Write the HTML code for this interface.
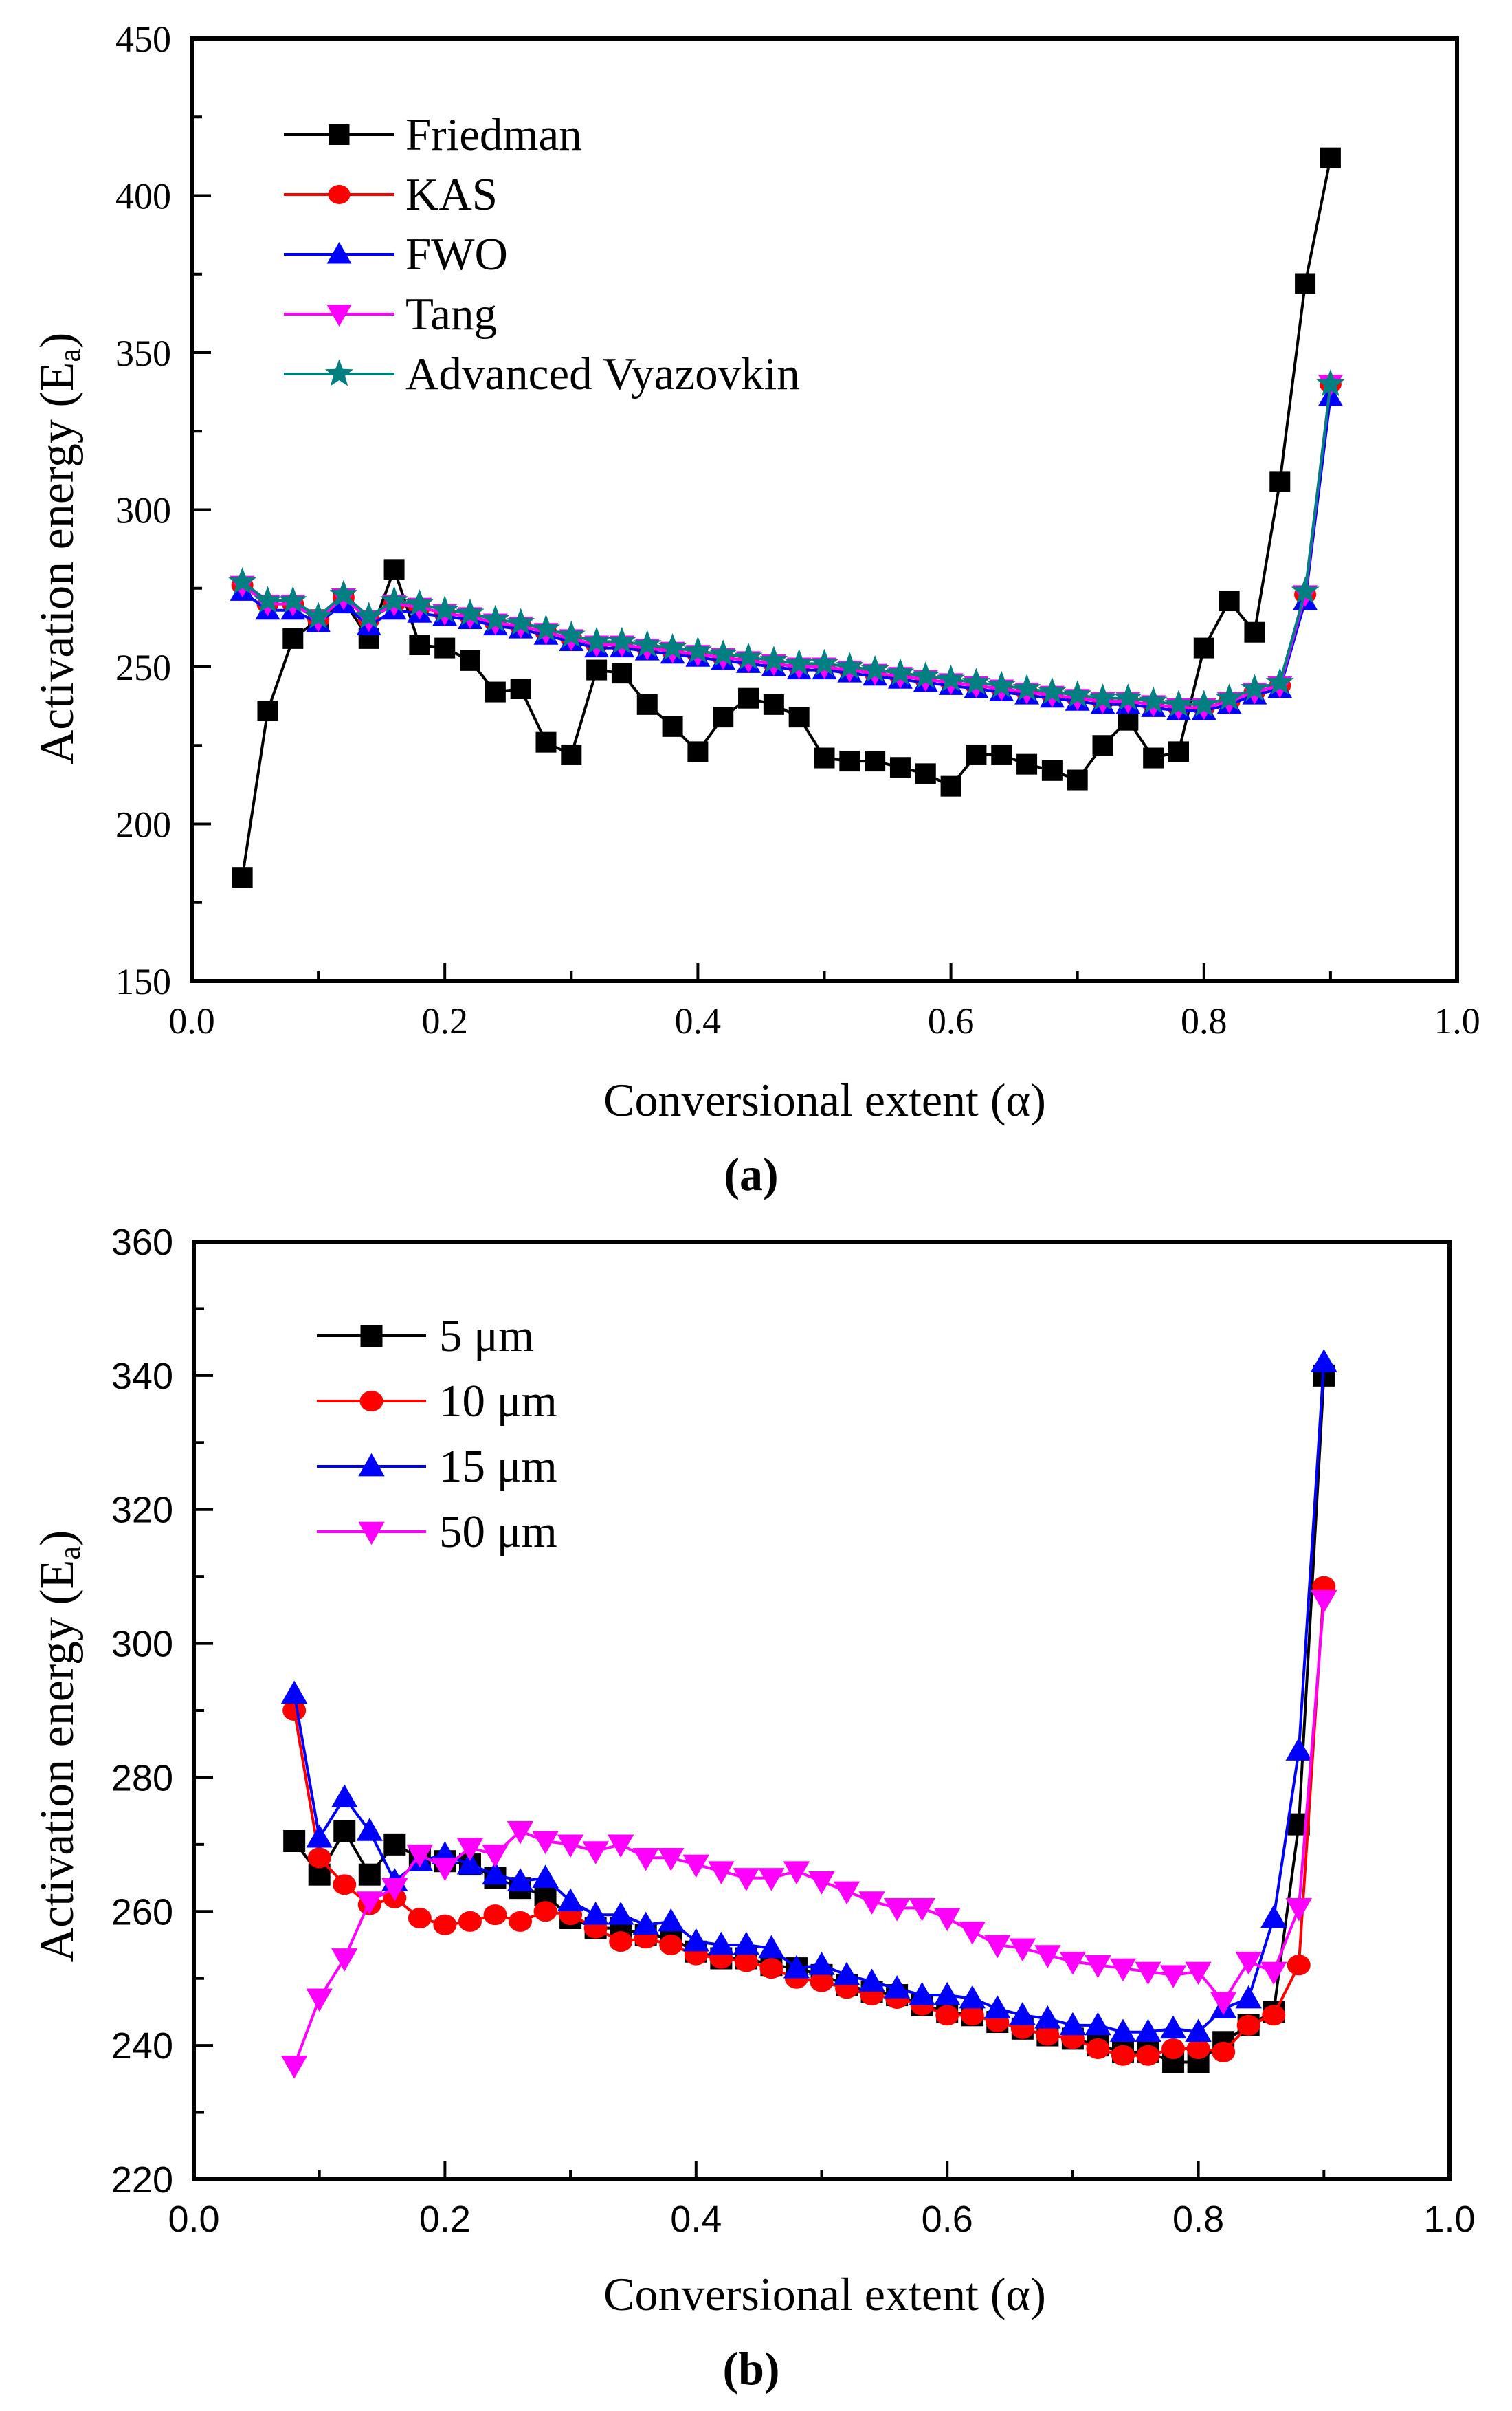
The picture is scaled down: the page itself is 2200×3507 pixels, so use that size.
<!DOCTYPE html>
<html><head><meta charset="utf-8"><style>
html,body{margin:0;padding:0;background:#fff;}
svg{display:block;}
text{font-family:"Liberation Serif",serif;fill:#000;}
.tk{font-family:"Liberation Sans",sans-serif;}
</style></head><body>
<svg id="fig" width="2200" height="3507" viewBox="0 0 2200 3507" xmlns="http://www.w3.org/2000/svg">
<rect x="0" y="0" width="2200" height="3507" fill="#fff"/>
<g id="chartA"></g>
<g id="chartB"></g>
</svg>
<script>
// ---- Chart (a) data ----
const xA = [0.04,0.06,0.08,0.10,0.12,0.14,0.16,0.18,0.20,0.22,0.24,0.26,0.28,0.30,0.32,0.34,0.36,0.38,0.40,0.42,0.44,0.46,0.48,0.50,0.52,0.54,0.56,0.58,0.60,0.62,0.64,0.66,0.68,0.70,0.72,0.74,0.76,0.78,0.80,0.82,0.84,0.86,0.88,0.90];
const friedman = [183,236,259,265,271,259,281,257,256,252,242,243,226,222,249,248,238,231,223,234,240,238,234,221,220,220,218,216,212,222,222,219,217,214,225,233,221,223,256,271,261,309,372,412];
const kas = [276,270,270,265,272,265,270,269,267,266,264,263,261,259,257,257,256,255,254,253,252,251,250,250,249,248,247,246,245,244,243,242,241,240,239,239,238,237,237,239,242,244,273,340];
const fwo = [274,268,268,264,270,263,268,267,266,265,263,262,260,258,256,256,255,254,253,252,251,250,249,249,248,247,246,245,244,243,242,241,240,239,238,238,237,236,236,238,241,243,271,336];
const tang = [276,270,270,265,272,265,270,269,267,266,264,263,261,259,257,257,256,255,254,253,252,251,250,250,249,248,247,246,245,244,243,242,241,240,239,239,238,237,237,239,242,244,273,340];
const vyaz = [277,271,271,266,273,266,271,270,268,267,265,264,262,260,258,258,257,256,255,254,253,252,251,251,250,249,248,247,246,245,244,243,242,241,240,240,239,238,238,240,243,245,274,340];
const xTicksA = ["0.0","0.2","0.4","0.6","0.8","1.0"];
const yTicksA = ["150","200","250","300","350","400","450"];
const legendA = ["Friedman","KAS","FWO","Tang","Advanced Vyazovkin"];

// ---- Chart (b) data ----
const xB = [0.08,0.10,0.12,0.14,0.16,0.18,0.20,0.22,0.24,0.26,0.28,0.30,0.32,0.34,0.36,0.38,0.40,0.42,0.44,0.46,0.48,0.50,0.52,0.54,0.56,0.58,0.60,0.62,0.64,0.66,0.68,0.70,0.72,0.74,0.76,0.78,0.80,0.82,0.84,0.86,0.88,0.90];
const um5 = [270.5,265.5,272,265.5,270,268,267.5,267,265,263.5,262.5,259,257.5,257.5,256.5,256,254,253,253,252,251.5,250.5,249,248,247.5,246,245,244.5,243.5,242.5,241.5,241,240,239,239,237.5,237.5,240.5,243,245,273,340];
const um10 = [290,268,264,261,262,259,258,258.5,259.5,258.5,260,259.5,257.5,255.5,256,255,253.5,253,252.5,251.5,250,249.5,248.5,247.5,247,246,244.5,244.5,243.5,242.5,241.5,241,239.5,238.5,238.5,239.5,239.5,239,243,244.5,252,308.5];
const um15 = [292.5,271,277,272,264.5,267.5,268.5,267,265.5,264.5,265,261.5,259.5,259.5,258,258.5,255.5,255,255,254.5,251.5,252,250.5,249.5,248.5,247.5,247.5,247,245.5,244.5,244,243,243,242,242,242.5,242,245.5,247,259,284,342];
const um50 = [237,247,253,261.5,263.5,268.5,266.5,269.5,268.5,272,270.5,270,269,270,268,268,267,266,265,265,266,264.5,263,261.5,260.5,260.5,259,257,255,254.5,253.5,252.5,252,251.5,251,250.5,251,246.5,252.5,251,260.5,306.5];
const xTicksB = ["0.0","0.2","0.4","0.6","0.8","1.0"];
const yTicksB = ["220","240","260","280","300","320","340","360"];
const legendB = ["5 μm","10 μm","15 μm","50 μm"];

const NS = "http://www.w3.org/2000/svg";
function mk(tag, attrs, parent){
  const e = document.createElementNS(NS, tag);
  for (const k in attrs) e.setAttribute(k, attrs[k]);
  parent.appendChild(e);
  return e;
}
function marker(g, shape, cx, cy, s, color){
  let e;
  if (shape === "square") {
    e = mk("rect", {x:cx-s/2, y:cy-s/2, width:s, height:s, fill:color}, g);
  } else if (shape === "circle") {
    e = mk("ellipse", {cx:cx, cy:cy, rx:s/2+1, ry:s/2-1, fill:color}, g);
  } else if (shape === "up") {
    e = mk("polygon", {points:`${cx},${cy-s*0.6} ${cx-s*0.6},${cy+s*0.45} ${cx+s*0.6},${cy+s*0.45}`, fill:color}, g);
  } else if (shape === "down") {
    e = mk("polygon", {points:`${cx},${cy+s*0.6} ${cx-s*0.6},${cy-s*0.45} ${cx+s*0.6},${cy-s*0.45}`, fill:color}, g);
  } else {
    let pts = [];
    for (let i=0;i<10;i++){
      const r = i%2===0 ? s*0.72 : s*0.3;
      const a = -Math.PI/2 + i*Math.PI/5;
      pts.push((cx+r*Math.cos(a)).toFixed(1)+","+(cy+r*Math.sin(a)).toFixed(1));
    }
    e = mk("polygon", {points:pts.join(" "), fill:color}, g);
  }
  return e;
}

function drawChart(root, cfg){
  const {L,R,T,B,xmin,xmax,ymin,ymax,yMinor,xTicks,yTicks,series,legend,legendPos,tickClass,tickSize,legendFont,ms} = cfg;
  const sx = v => L + (v - xmin)/(xmax - xmin)*(R - L);
  const sy = v => B - (v - ymin)/(ymax - ymin)*(B - T);
  series.forEach(s => {
    const g = mk("g", {}, root);
    
    
    const pts = s.x.map((xv,i)=> sx(xv).toFixed(1)+","+sy(s.y[i]).toFixed(1)).join(" ");
    const pl = mk("polyline", {points:pts, fill:"none", stroke:s.color, "stroke-width":4}, g);
    
    
    s.x.forEach((xv,i)=>{
      const m = marker(g, s.shape, sx(xv), sy(s.y[i]), ms, s.color);
      
      
    });
  });
  const ax = mk("rect", {x:L, y:T, width:R-L, height:B-T, fill:"none", stroke:"#000", "stroke-width":6}, root);
  
  
  const xt = mk("g", {}, root);
  
  
  xTicks.forEach((lab,i)=>{
    const v = parseFloat(lab);
    const x = sx(v);
    mk("line", {x1:x, y1:B, x2:x, y2:B-26, stroke:"#000", "stroke-width":4}, xt);
    if (i < xTicks.length-1) {
      const xm = sx(v + (xmax-xmin)/(xTicks.length-1)/2);
      mk("line", {x1:xm, y1:B, x2:xm, y2:B-14, stroke:"#000", "stroke-width":4}, xt);
    }
    const t = mk("text", {x:x, y:B+76, "font-size":tickSize, "text-anchor":"middle", class:tickClass}, xt);
    t.textContent = lab;
    
    
  });
  const yt = mk("g", {}, root);
  
  
  yTicks.forEach((lab,i)=>{
    const v = parseFloat(lab);
    const y = sy(v);
    mk("line", {x1:L, y1:y, x2:L+28, y2:y, stroke:"#000", "stroke-width":4}, yt);
    if (i < yTicks.length-1) {
      const ym = sy(v + yMinor);
      mk("line", {x1:L, y1:ym, x2:L+15, y2:ym, stroke:"#000", "stroke-width":4}, yt);
    }
    const t = mk("text", {x:L-30, y:y+19, "font-size":tickSize, "text-anchor":"end", class:tickClass}, yt);
    t.textContent = lab;
    
    
  });
  const lg = mk("g", {}, root);
  
  
  legend.forEach((lab,i)=>{
    const s = series[i];
    const y = legendPos.y0 + i*legendPos.dy;
    const e = mk("g", {}, lg);
    
    
    mk("line", {x1:legendPos.x1, y1:y, x2:legendPos.x2, y2:y, stroke:s.color, "stroke-width":4}, e);
    marker(e, s.shape, (legendPos.x1+legendPos.x2)/2, y, ms, s.color);
    const t = mk("text", {x:legendPos.tx, y:y+legendFont*0.33, "font-size":legendFont}, e);
    t.textContent = lab;
  });
}

const A = document.getElementById("chartA");
drawChart(A, {L:279,R:2120,T:56,B:1427,xmin:0,xmax:1,ymin:150,ymax:450,yMinor:25,
  xTicks:xTicksA,yTicks:yTicksA,tickClass:"",tickSize:54,legendFont:67,ms:30,
  series:[
    {key:"friedman",x:xA,y:friedman,color:"#000",shape:"square"},
    {key:"kas",x:xA,y:kas,color:"#ff0000",shape:"circle"},
    {key:"fwo",x:xA,y:fwo,color:"#0000ff",shape:"up"},
    {key:"tang",x:xA,y:tang,color:"#ff00ff",shape:"down"},
    {key:"vyazovkin",x:xA,y:vyaz,color:"#008080",shape:"star"}],
  legend:legendA, legendPos:{x1:413,x2:574,tx:590,y0:196,dy:87}});

const Bc = document.getElementById("chartB");
drawChart(Bc, {L:282,R:2109,T:1806,B:3170,xmin:0,xmax:1,ymin:220,ymax:360,yMinor:10,
  xTicks:xTicksB,yTicks:yTicksB,tickClass:"tk",tickSize:54,legendFont:67,ms:32,
  series:[
    {key:"5um",x:xB,y:um5,color:"#000",shape:"square"},
    {key:"10um",x:xB,y:um10,color:"#ff0000",shape:"circle"},
    {key:"15um",x:xB,y:um15,color:"#0000ff",shape:"up"},
    {key:"50um",x:xB,y:um50,color:"#ff00ff",shape:"down"}],
  legend:legendB, legendPos:{x1:461,x2:620,tx:639,y0:1943,dy:95}});

const svg = document.getElementById("fig");
function label(txt, attrs, name){
  const t = mk("text", attrs, svg);
  t.textContent = txt;
  
  
  return t;
}
label("Conversional extent (α)", {x:1200, y:1623, "font-size":68, "text-anchor":"middle"}, "x-axis-title-a");
label("(a)", {x:1093, y:1731, "font-size":68, "text-anchor":"middle", "font-weight":"bold"}, "panel-label-a");
label("Conversional extent (α)", {x:1200, y:3360, "font-size":68, "text-anchor":"middle"}, "x-axis-title-b");
label("(b)", {x:1093, y:3468, "font-size":68, "text-anchor":"middle", "font-weight":"bold"}, "panel-label-b");
const ya = label("", {transform:"translate(106,798) rotate(-90)", "font-size":70, "text-anchor":"middle"}, "y-axis-title-a");
ya.innerHTML = 'Activation energy (E<tspan font-size="44" dy="10">a</tspan><tspan dy="-10">)</tspan>';
const yb = label("", {transform:"translate(106,2540) rotate(-90)", "font-size":70, "text-anchor":"middle"}, "y-axis-title-b");
yb.innerHTML = 'Activation energy (E<tspan font-size="44" dy="10">a</tspan><tspan dy="-10">)</tspan>';
</script>
</body></html>
